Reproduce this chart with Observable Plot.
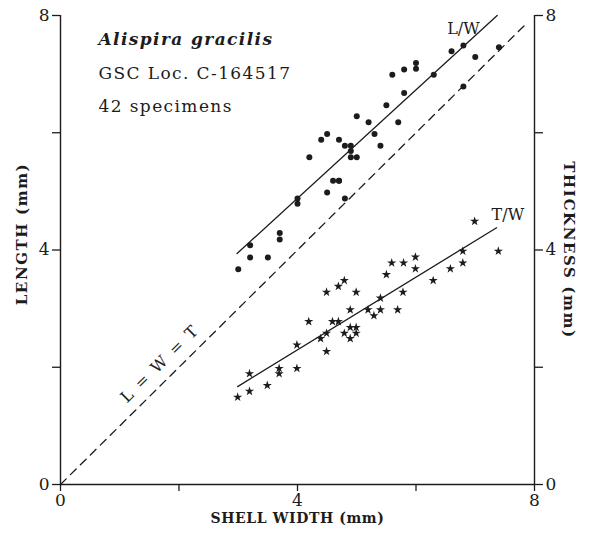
<!DOCTYPE html>
<html>
<head>
<meta charset="utf-8">
<script src="https://cdn.jsdelivr.net/npm/d3@7"></script>
<script src="https://cdn.jsdelivr.net/npm/@observablehq/plot@0.6"></script>
<style>
  html, body { margin: 0; padding: 0; background: #fff; }
  #chart svg { display: block; }
  .note text { letter-spacing: 1.4px; }
  .eqlabel text { letter-spacing: 2px; }
  .axlabel text { letter-spacing: 0.6px; }
  .axlabelv text { letter-spacing: 1.6px; }
</style>
</head>
<body>
<div id="chart"></div>
<script>
// Shell width (mm) and length (mm) — circles
const lenWidth = [3.0,3.2,3.2,3.5,3.7,3.7,4.0,4.0,4.2,4.4,4.5,4.5,4.6,4.7,4.7,4.7,4.8,4.8,4.9,4.9,4.9,5.0,5.0,5.2,5.3,5.4,5.5,5.6,5.7,5.8,5.8,6.0,6.0,6.3,6.6,6.8,6.8,7.0,7.4];
const lenValue = [3.67,3.87,4.08,3.87,4.18,4.29,4.79,4.88,5.58,5.88,5.98,4.98,5.18,5.88,5.18,5.18,5.78,4.88,5.78,5.69,5.58,6.28,5.58,6.18,5.98,5.78,6.47,6.99,6.18,7.08,6.68,7.19,7.09,6.99,7.39,7.49,6.79,7.29,7.46];
// Shell width (mm) and thickness (mm) — stars
const thkWidth = [2.99,3.19,3.19,3.49,3.69,3.69,3.99,3.99,4.19,4.39,4.49,4.49,4.49,4.59,4.69,4.69,4.79,4.79,4.89,4.89,4.89,4.99,4.99,4.99,5.19,5.29,5.40,5.40,5.50,5.59,5.69,5.78,5.79,5.99,5.99,6.29,6.58,6.79,6.79,6.99,7.39];
const thkValue = [1.49,1.59,1.89,1.69,1.89,1.98,1.98,2.38,2.78,2.49,2.58,2.27,3.28,2.78,2.78,3.38,2.58,3.48,2.49,2.68,2.98,2.68,2.58,3.28,2.98,2.88,2.98,3.18,3.58,3.78,2.98,3.28,3.78,3.68,3.88,3.48,3.68,3.78,3.98,4.49,3.98];
// Fitted lines (end points)
const lwFitW = [2.98, 7.37];
const lwFitL = [3.94, 8.0];
const twFitW = [2.99, 7.36];
const twFitT = [1.67, 4.38];
// Equality line L = W = T
const eqW = [0, 7.85];
const eqV = [0, 7.85];
// Axis ticks
const tickValues = [0, 2, 4, 6, 8];
const labeledTicks = [0, 4, 8];

const circles = lenWidth.map((w, i) => ({w, v: lenValue[i]}));
const stars = thkWidth.map((w, i) => ({w, v: thkValue[i]}));
const lwFit = lwFitW.map((w, i) => ({w, v: lwFitL[i]}));
const twFit = twFitW.map((w, i) => ({w, v: twFitT[i]}));
const eq = eqW.map((w, i) => ({w, v: eqV[i]}));

const fmt = d => labeledTicks.includes(d) ? String(d) : "";
const serif = "DejaVu Serif";
const ink = "#1c1c1c";

const chart = Plot.plot({
  width: 590,
  height: 533,
  marginLeft: 60,
  marginRight: 56,
  marginTop: 15,
  marginBottom: 49,
  x: {domain: [0, 8]},
  y: {domain: [0, 8]},
  style: {fontFamily: serif, fontSize: "17px", color: ink, background: "#fff"},
  marks: [
    Plot.axisX({ticks: tickValues, tickFormat: fmt, tickSize: 7, tickPadding: 2, label: null, fontSize: 17, strokeWidth: 1.3}),
    Plot.axisY({anchor: "left", ticks: tickValues, tickFormat: fmt, tickSize: 8, tickPadding: 3, label: null, fontSize: 17, strokeWidth: 1.3}),
    Plot.axisY({anchor: "right", ticks: tickValues, tickFormat: fmt, tickSize: 8, tickPadding: 3, label: null, fontSize: 17, strokeWidth: 1.3}),
    Plot.ruleX([0], {y1: 0, y2: 8, stroke: ink, strokeWidth: 1.4}),
    Plot.ruleX([8], {y1: 0, y2: 8, stroke: ink, strokeWidth: 1.4}),
    Plot.ruleY([0], {x1: 0, x2: 8, stroke: ink, strokeWidth: 1.4}),
    Plot.line(eq, {x: "w", y: "v", stroke: ink, strokeWidth: 1.3, strokeDasharray: "8,6"}),
    Plot.line(lwFit, {x: "w", y: "v", stroke: ink, strokeWidth: 1.3}),
    Plot.line(twFit, {x: "w", y: "v", stroke: ink, strokeWidth: 1.3}),
    Plot.dot(circles, {x: "w", y: "v", r: 3, fill: ink, stroke: "none"}),
    Plot.dot(stars, {x: "w", y: "v", r: 2.9, symbol: "star", fill: ink, stroke: "none"}),
    Plot.text(["L/W"], {x: 6.8, y: 7.78, fontSize: 16, fill: ink, fontFamily: serif}),
    Plot.text(["T/W"], {x: 7.55, y: 4.6, fontSize: 16, fill: ink, fontFamily: serif}),
    Plot.text(["L = W = T"], {x: 1.68, y: 2.06, rotate: -44.7, fontSize: 16, fill: ink, fontFamily: serif, className: "eqlabel"}),
    Plot.text(["Alispira gracilis"], {frameAnchor: "top-left", dx: 38, dy: 24, textAnchor: "start", lineAnchor: "middle", fontSize: 17, fontStyle: "italic", fontWeight: "bold", fill: ink, fontFamily: serif, className: "note"}),
    Plot.text(["GSC Loc. C-164517"], {frameAnchor: "top-left", dx: 38, dy: 58, textAnchor: "start", lineAnchor: "middle", fontSize: 17, fill: ink, fontFamily: serif, className: "note"}),
    Plot.text(["42 specimens"], {frameAnchor: "top-left", dx: 38, dy: 91, textAnchor: "start", lineAnchor: "middle", fontSize: 17, fill: ink, fontFamily: serif, className: "note"}),
    Plot.text(["LENGTH (mm)"], {frameAnchor: "left", dx: -38, dy: -16, rotate: -90, textAnchor: "middle", lineAnchor: "middle", fontSize: 15, fontWeight: "bold", fill: ink, fontFamily: serif, className: "axlabelv"}),
    Plot.text(["THICKNESS (mm)"], {frameAnchor: "right", dx: 34, dy: 0, rotate: 90, textAnchor: "middle", lineAnchor: "middle", fontSize: 15, fontWeight: "bold", fill: ink, fontFamily: serif, className: "axlabelv"}),
    Plot.text(["SHELL WIDTH (mm)"], {frameAnchor: "bottom", dy: 38, textAnchor: "middle", fontSize: 14, fontWeight: "bold", fill: ink, fontFamily: serif, className: "axlabel"})
  ]
});
document.getElementById("chart").appendChild(chart);
</script>
</body>
</html>
